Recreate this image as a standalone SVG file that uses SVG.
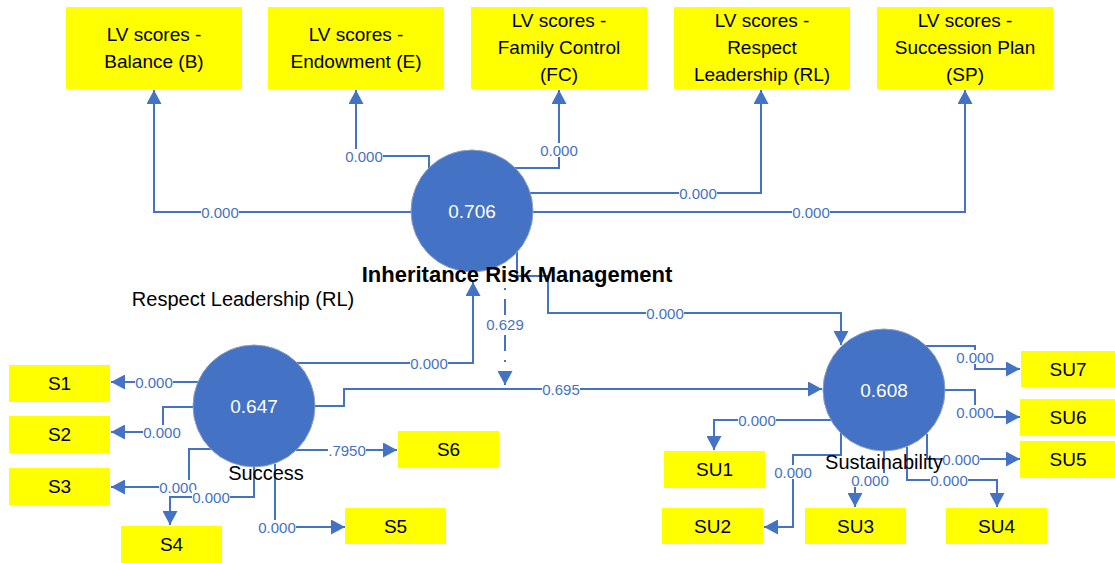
<svg xmlns="http://www.w3.org/2000/svg" width="1115" height="563" viewBox="0 0 1115 563">
<style>
.box{fill:#FFFF00}
.bt{font-family:"Liberation Sans",Arial,sans-serif;font-size:19px;fill:#000;text-anchor:middle}
.lv{fill:#4472C4;stroke:#8e9fc0;stroke-width:1}
.lvt{font-family:"Liberation Sans",Arial,sans-serif;font-size:19px;fill:#fff;text-anchor:middle;dominant-baseline:central}
.nm{font-family:"Liberation Sans",Arial,sans-serif;font-size:20px;fill:#000;text-anchor:middle}
.c{fill:none;stroke:#4472C4;stroke-width:2}
.d{stroke-dasharray:2 9 16 9}
.lb rect{fill:#fff}
.lb text{font-family:"Liberation Sans",Arial,sans-serif;font-size:15px;fill:#4472C4;text-anchor:middle;dominant-baseline:central}
</style>
<defs>
<marker id="ah" markerUnits="userSpaceOnUse" viewBox="0 0 14 15" markerWidth="14" markerHeight="15" refX="14" refY="7.5" orient="auto">
<path d="M0,0 L14,7.5 L0,15 z" fill="#4472C4"/>
</marker>
</defs>
<rect width="1115" height="563" fill="#fff"/>

<g id="connectors">
<path class="c" marker-end="url(#ah)" d="M411,212 H154 V90"/>
<path class="c" marker-end="url(#ah)" d="M429,168 V156 H356 V90"/>
<path class="c" marker-end="url(#ah)" d="M514,168 H559 V90"/>
<path class="c" marker-end="url(#ah)" d="M530,193 H761 V90"/>
<path class="c" marker-end="url(#ah)" d="M533,212 H965 V90"/>
<path class="c" marker-end="url(#ah)" d="M517,252 V276 H548 V313 H841 V345"/>
<path class="c" marker-end="url(#ah)" d="M296,363 H473 V282"/>
<path class="c d" marker-end="url(#ah)" d="M505,288 V385"/>
<path class="c" marker-end="url(#ah)" d="M314,406 H344 V389 H822"/>
<path class="c" marker-end="url(#ah)" d="M198,382 H111"/>
<path class="c" marker-end="url(#ah)" d="M193,407 H163 V432 H111"/>
<path class="c" marker-end="url(#ah)" d="M211,449 H189 V487 H111"/>
<path class="c" marker-end="url(#ah)" d="M254,467 V497 H170 V525"/>
<path class="c" marker-end="url(#ah)" d="M275,464 V527 H345"/>
<path class="c" marker-end="url(#ah)" d="M296,450 H397"/>
<path class="c" marker-end="url(#ah)" d="M926,346 H975 V369 H1020"/>
<path class="c" marker-end="url(#ah)" d="M945,390 H975 V417 H1020"/>
<path class="c" marker-end="url(#ah)" d="M927,434 V459 H1020"/>
<path class="c" marker-end="url(#ah)" d="M907,447 V480 H997 V507"/>
<path class="c" marker-end="url(#ah)" d="M884,451 V480 H855 V507"/>
<path class="c" marker-end="url(#ah)" d="M841,433 V455 H793 V527 H764"/>
<path class="c" marker-end="url(#ah)" d="M831,420 H714 V450"/>

<g class="lb"><rect x="201" y="205" width="38" height="14"/><text x="220" y="212">0.000</text></g>
<g class="lb"><rect x="345" y="149" width="38" height="14"/><text x="364" y="156">0.000</text></g>
<g class="lb"><rect x="540" y="143" width="38" height="14"/><text x="559" y="150">0.000</text></g>
<g class="lb"><rect x="679" y="186" width="38" height="14"/><text x="698" y="193">0.000</text></g>
<g class="lb"><rect x="792" y="205" width="38" height="14"/><text x="811" y="212">0.000</text></g>
<g class="lb"><rect x="646" y="306" width="38" height="14"/><text x="665" y="313">0.000</text></g>
<g class="lb"><rect x="410" y="356" width="38" height="14"/><text x="429" y="363">0.000</text></g>
<g class="lb"><rect x="486" y="317" width="38" height="14"/><text x="505" y="324">0.629</text></g>
<g class="lb"><rect x="542" y="382" width="38" height="14"/><text x="561" y="389">0.695</text></g>
<g class="lb"><rect x="135" y="375" width="38" height="14"/><text x="154" y="382">0.000</text></g>
<g class="lb"><rect x="143" y="425" width="38" height="14"/><text x="162" y="432">0.000</text></g>
<g class="lb"><rect x="159" y="480" width="38" height="14"/><text x="178" y="487">0.000</text></g>
<g class="lb"><rect x="192" y="490" width="38" height="14"/><text x="211" y="497">0.000</text></g>
<g class="lb"><rect x="258" y="520" width="38" height="14"/><text x="277" y="527">0.000</text></g>
<g class="lb"><rect x="328" y="443" width="38" height="14"/><text x="347" y="450">.7950</text></g>
<g class="lb"><rect x="956" y="350" width="38" height="14"/><text x="975" y="357">0.000</text></g>
<g class="lb"><rect x="956" y="405" width="38" height="14"/><text x="975" y="412">0.000</text></g>
<g class="lb"><rect x="942" y="452" width="38" height="14"/><text x="961" y="459">0.000</text></g>
<g class="lb"><rect x="930" y="473" width="38" height="14"/><text x="949" y="480">0.000</text></g>
<g class="lb"><rect x="851" y="473" width="38" height="14"/><text x="870" y="480">0.000</text></g>
<g class="lb"><rect x="774" y="465" width="38" height="14"/><text x="793" y="472">0.000</text></g>
<g class="lb"><rect x="738" y="413" width="38" height="14"/><text x="757" y="420">0.000</text></g>
</g>

<g id="irm">
<circle class="lv" cx="472" cy="211" r="61"/>
<text class="lvt" x="472" y="211">0.706</text>
<text x="517" y="282" font-family="Liberation Sans,Arial,sans-serif" font-size="22" font-weight="bold" text-anchor="middle" fill="#000">Inheritance Risk Management</text>
</g>
<g id="success">
<circle class="lv" cx="254" cy="406" r="61"/>
<text class="lvt" x="254" y="406">0.647</text>
<text class="nm" x="266" y="480">Success</text>
</g>
<g id="sustainability">
<circle class="lv" cx="884" cy="390" r="61"/>
<text class="lvt" x="884" y="390">0.608</text>
<text class="nm" x="884" y="469">Sustainability</text>
</g>
<g id="rl-label">
<text class="nm" x="243" y="306">Respect Leadership (RL)</text>
</g>

<g id="lv-b"><rect class="box" x="66" y="7" width="176" height="82"/><text class="bt" x="154" y="41">LV scores -</text><text class="bt" x="154" y="68">Balance (B)</text></g>
<g id="lv-e"><rect class="box" x="268" y="7" width="176" height="82"/><text class="bt" x="356" y="41">LV scores -</text><text class="bt" x="356" y="68">Endowment (E)</text></g>
<g id="lv-fc"><rect class="box" x="471" y="7" width="176" height="82"/><text class="bt" x="559" y="27">LV scores -</text><text class="bt" x="559" y="54">Family Control</text><text class="bt" x="559" y="81">(FC)</text></g>
<g id="lv-rl"><rect class="box" x="674" y="7" width="176" height="82"/><text class="bt" x="762" y="27">LV scores -</text><text class="bt" x="762" y="54">Respect</text><text class="bt" x="762" y="81">Leadership (RL)</text></g>
<g id="lv-sp"><rect class="box" x="877" y="7" width="176" height="82"/><text class="bt" x="965" y="27">LV scores -</text><text class="bt" x="965" y="54">Succession Plan</text><text class="bt" x="965" y="81">(SP)</text></g>

<g id="s1"><rect class="box" x="9" y="365" width="101" height="37"/><text class="bt" x="59.5" y="390">S1</text></g>
<g id="s2"><rect class="box" x="9" y="416" width="101" height="37"/><text class="bt" x="59.5" y="441">S2</text></g>
<g id="s3"><rect class="box" x="9" y="468" width="101" height="37"/><text class="bt" x="59.5" y="493">S3</text></g>
<g id="s4"><rect class="box" x="121" y="526" width="101" height="37"/><text class="bt" x="171.5" y="551">S4</text></g>
<g id="s5"><rect class="box" x="345" y="508" width="101" height="36"/><text class="bt" x="395.5" y="533">S5</text></g>
<g id="s6"><rect class="box" x="398" y="431" width="101" height="37"/><text class="bt" x="448.5" y="456">S6</text></g>

<g id="su1"><rect class="box" x="664" y="451" width="101" height="37"/><text class="bt" x="714.5" y="476">SU1</text></g>
<g id="su2"><rect class="box" x="662" y="508" width="101" height="36"/><text class="bt" x="712.5" y="533">SU2</text></g>
<g id="su3"><rect class="box" x="805" y="508" width="101" height="36"/><text class="bt" x="855.5" y="533">SU3</text></g>
<g id="su4"><rect class="box" x="946" y="508" width="101" height="36"/><text class="bt" x="996.5" y="533">SU4</text></g>
<g id="su5"><rect class="box" x="1020" y="441" width="96" height="37"/><text class="bt" x="1068" y="466">SU5</text></g>
<g id="su6"><rect class="box" x="1020" y="399" width="96" height="37"/><text class="bt" x="1068" y="424">SU6</text></g>
<g id="su7"><rect class="box" x="1021" y="351" width="95" height="36"/><text class="bt" x="1068" y="376">SU7</text></g>
</svg>
